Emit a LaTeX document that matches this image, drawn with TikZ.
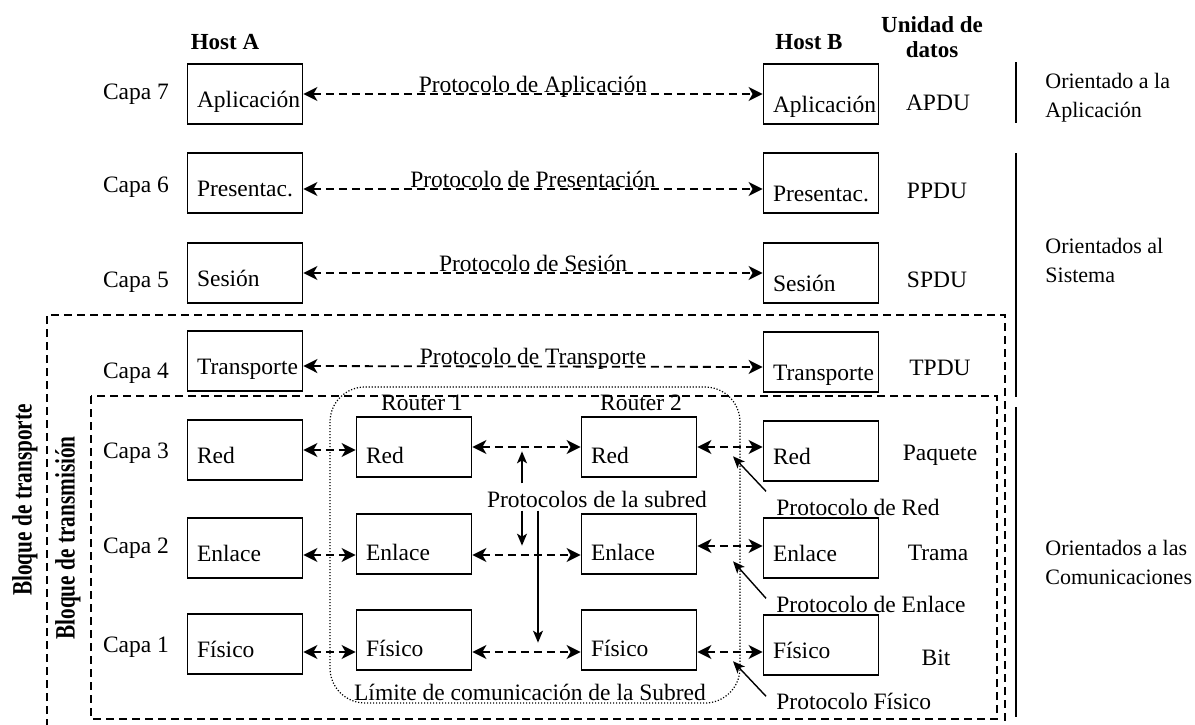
\documentclass[tikz,border=0pt]{standalone}
\usepackage{fontspec}
\setmainfont{Liberation Serif}
\usetikzlibrary{arrows.meta}

\begin{document}
\begin{tikzpicture}[x=0.5pt, y=-0.5pt,
    font=\fontsize{11.75}{14}\selectfont,
    capa/.style={draw, line width=0.9pt, text width=48pt, align=left, inner xsep=4.75pt, inner ysep=0pt, text height=21.5pt, text depth=8.5pt},
    capab/.style={capa, text height=24pt, text depth=6pt},
    capar/.style={capa, text height=23pt, text depth=7pt},
    proto/.style={line width=0.9pt, dash pattern=on 4pt off 2.5pt, {Stealth[length=7pt,width=7pt,inset=2pt]}-{Stealth[length=7pt,width=7pt,inset=2pt]}},
    sub/.style={line width=0.7pt, -{Stealth[length=6pt,width=5pt,inset=1.5pt]}},
    punt/.style={line width=0.7pt, -{Stealth[length=6pt,width=5pt,inset=1.5pt]}},
    bloque/.style={line width=0.9pt, dash pattern=on 4pt off 2.5pt},
    limite/.style={line width=0.6pt, dash pattern=on 0.6pt off 0.9pt, rounded corners=17.5pt},
    titulo/.style={font=\fontsize{11.5}{12.5}\selectfont\bfseries},
    orient/.style={anchor=west, align=left, inner sep=0pt, font=\fontsize{11}{14.5}\selectfont},
    bloquetxt/.style={rotate=90, font=\fontsize{14}{16}\selectfont\bfseries}]
  \useasboundingbox (0,0) rectangle (1195,724);

  % bloques
  \draw[bloque] (47,740) |- (1005,315) -- (1005,740);
  \draw[bloque] (91,396) rectangle (997,719);
  \draw[limite] (330,387) rectangle (740,703);
  \node[bloquetxt] (bTransporte) at (25,500) {\scalebox{0.76}[1]{Bloque de transporte}};
  \node[bloquetxt] (bTransmision) at (68,538) {\scalebox{0.76}[1]{Bloque de transmisión}};

  % cabeceras
  \node[titulo] (hostA) at (225,42) {Host A};
  \node[titulo] (hostB) at (809,42) {Host B};
  \node[titulo, align=center] (unidad) at (932,37) {Unidad de\\datos};
  \node (rot1) at (422,403) {Router 1};
  \node (rot2) at (641,403) {Router 2};

  % capas
  \node[anchor=east] (c7) at (176,94) {Capa 7};
  \node[anchor=east] (c6) at (176,187) {Capa 6};
  \node[anchor=east] (c5) at (176,282) {Capa 5};
  \node[anchor=east] (c4) at (176,373) {Capa 4};
  \node[anchor=east] (c3) at (176,453) {Capa 3};
  \node[anchor=east] (c2) at (176,548) {Capa 2};
  \node[anchor=east] (c1) at (176,647) {Capa 1};

  % host A
  \node[capa] (hA7) at (245,94) {Aplicación};
  \node[capa] (hA6) at (245,183) {Presentac.};
  \node[capa] (hA5) at (245,273) {Sesión};
  \node[capa] (hA4) at (245,361) {Transporte};
  \node[capa] (hA3) at (245,450) {Red};
  \node[capa] (hA2) at (245,548) {Enlace};
  \node[capa] (hA1) at (245,644) {Físico};

  % routers
  \node[capar] (r1R) at (414,447) {Red};
  \node[capar] (r1E) at (414,544) {Enlace};
  \node[capar] (r1F) at (414,640) {Físico};
  \node[capar] (r2R) at (639,447) {Red};
  \node[capar] (r2E) at (639,544) {Enlace};
  \node[capar] (r2F) at (639,640) {Físico};

  % host B
  \node[capab] (hB7) at (821,94) {Aplicación};
  \node[capab] (hB6) at (821,183) {Presentac.};
  \node[capab] (hB5) at (821,273) {Sesión};
  \node[capab] (hB4) at (821,362) {Transporte};
  \node[capa] (hB3) at (821,451) {Red};
  \node[capa] (hB2) at (821,548) {Enlace};
  \node[capa] (hB1) at (821,645) {Físico};

  % unidades de datos
  \node (uA) at (938,103) {APDU};
  \node (uP) at (937,191) {PPDU};
  \node (uS) at (937,280) {SPDU};
  \node (uT) at (940,368) {TPDU};
  \node (uPaq) at (940,455) {Paquete};
  \node (uTr) at (938,553) {Trama};
  \node (uBit) at (936,658) {Bit};

  % protocolos extremo a extremo
  \draw[proto] (hA7.east) -- (hB7.west)
    node[midway, anchor=base, inner sep=0pt, yshift=1pt] (pApl) {Protocolo de Aplicación};
  \draw[proto, transform canvas={yshift=-3pt}] (hA6.east) -- (hB6.west)
    node[midway, anchor=base, inner sep=0pt, yshift=1pt] (pPre) {Protocolo de Presentación};
  \draw[proto] (hA5.east) -- (hB5.west)
    node[midway, anchor=base, inner sep=0pt, yshift=1pt] (pSes) {Protocolo de Sesión};
  \draw[proto, transform canvas={yshift=-2.5pt}] (hA4.east) -- (hB4.west)
    node[midway, anchor=base, inner sep=0pt, yshift=1pt] (pTra) {Protocolo de Transporte};

  % subred
  \draw[proto] (hA3.east) -- (hA3.east -| r1R.west);
  \draw[proto] (r1R.east) -- (r2R.west);
  \draw[proto] (r2R.east) -- (r2R.east -| hB3.west);
  \draw[proto, transform canvas={yshift=-3.5pt}] (hA2.east) -- (hA2.east -| r1E.west);
  \draw[proto, transform canvas={yshift=-5.5pt}] (r1E.east) -- (r2E.west);
  \draw[proto, transform canvas={yshift=-1pt}] (r2E.east) -- (r2E.east -| hB2.west);
  \draw[proto, transform canvas={yshift=-4pt}] (hA1.east) -- (hA1.east -| r1F.west);
  \draw[proto, transform canvas={yshift=-6pt}] (r1F.east) -- (r2F.west);
  \draw[proto, transform canvas={yshift=-6pt}] (r2F.east) -- (r2F.east -| hB1.west);

  \node[inner sep=1.5pt] (subred) at (597,499) {Protocolos de la subred};
  \draw[sub] ([xshift=-37.5pt,yshift=2pt]subred.north) -- ++(0,-32);
  \draw[sub] ([xshift=-37.5pt]subred.south) -- ++(0,35);
  \draw[sub] ([xshift=-29.5pt]subred.south) -- ++(0,132);
  \node[anchor=base] (limiteTxt) at (530,700) {Límite de comunicación de la Subred};

  % protocolos por capa
  \node[anchor=base west, inner sep=0pt] (pRed) at (776,515) {Protocolo de Red};
  \node[anchor=base west, inner sep=0pt] (pEnl) at (776,612) {Protocolo de Enlace};
  \node[anchor=base west, inner sep=0pt] (pFis) at (776,709) {Protocolo Físico};
  \draw[punt] ([xshift=-5pt,yshift=3.5pt]pRed.north west) -- ++(-33,-35);
  \draw[punt] ([xshift=-5pt,yshift=-1.5pt]pEnl.north west) -- ++(-33,-37);
  \draw[punt] ([xshift=-5pt,yshift=-2pt]pFis.north west) -- ++(-33,-35);

  % orientacion
  \draw[line width=0.7pt] (1016,62) -- (1016,123);
  \draw[line width=0.7pt] (1016,153) -- (1016,397);
  \draw[line width=0.7pt] (1016,407) -- (1016,717);
  \node[orient] (oApl) at (1045,98) {Orientado a la\\Aplicación};
  \node[orient] (oSis) at (1045,260) {Orientados al\\Sistema};
  \node[orient] (oCom) at (1045,562) {Orientados a las\\Comunicaciones};
\end{tikzpicture}
\end{document}
